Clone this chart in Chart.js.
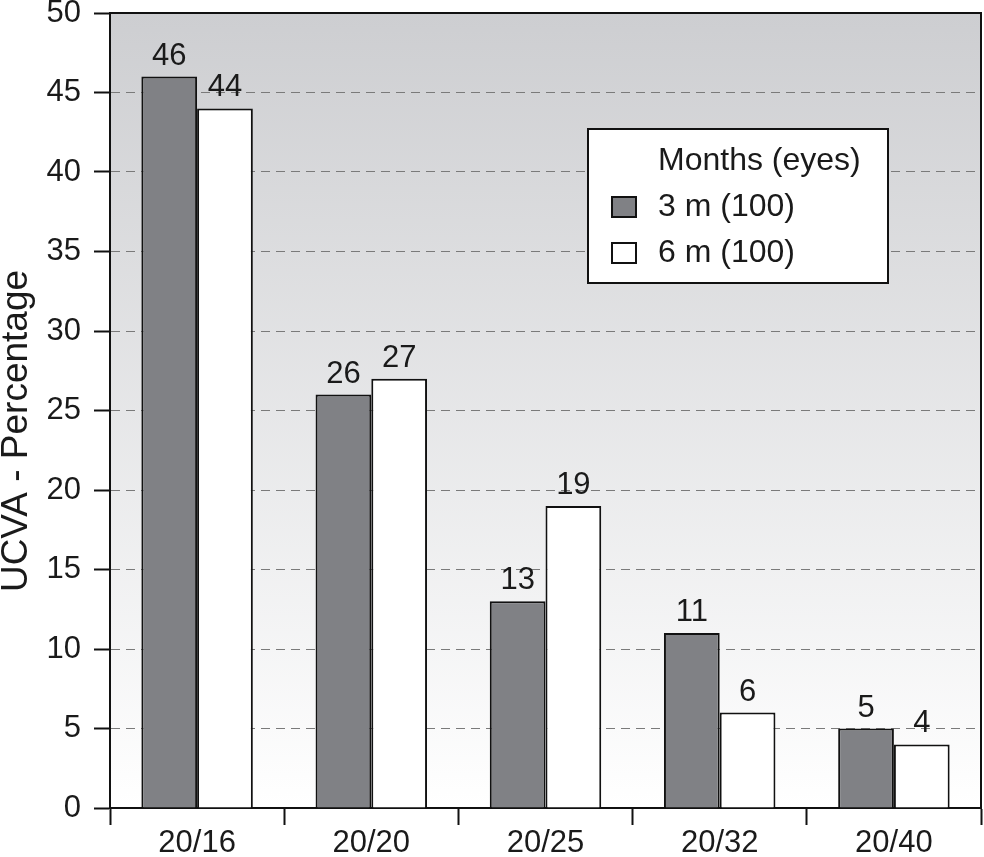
<!DOCTYPE html>
<html>
<head>
<meta charset="utf-8">
<script src="https://cdn.jsdelivr.net/npm/chart.js@4.4.1/dist/chart.umd.min.js"></script>
<style>
  html, body { margin: 0; padding: 0; background: #fff; }
  #wrap { width: 984px; height: 857px; }
</style>
</head>
<body>
<div id="wrap"><canvas id="grafico"></canvas></div>
<script>
// dados
const categorias = ['20/16', '20/20', '20/25', '20/32', '20/40'];
const meses3 = [46, 26, 13, 11, 5];
const meses6 = [44, 27, 19, 6, 4];
const rotulos = ['3 m (100)', '6 m (100)'];
const tituloLegenda = 'Months (eyes)';
const tituloY = 'UCVA - Percentage';

const fonte = '"Liberation Sans", Arial, Helvetica, sans-serif';

// fundo degrade na area do grafico
const fundo = {
    id: 'fundo',
    beforeDraw(chart) {
        const a = chart.chartArea;
        const ctx = chart.ctx;
        const g = ctx.createLinearGradient(0, a.top, 0, a.bottom);
        g.addColorStop(0, '#cdced1');
        g.addColorStop(1, '#ffffff');
        ctx.save();
        ctx.fillStyle = g;
        ctx.fillRect(a.left, a.top, a.right - a.left, a.bottom - a.top);
        ctx.restore();
    }
};

// valores em cima das barras + moldura + legenda + titulo do eixo
const extras = {
    id: 'extras',
    afterDatasetsDraw(chart) {
        const ctx = chart.ctx;
        const a = chart.chartArea;
        ctx.save();
        ctx.font = '31px ' + fonte;
        ctx.fillStyle = '#1a1a1a';
        ctx.textAlign = 'center';
        ctx.textBaseline = 'alphabetic';
        chart.data.datasets.forEach((ds, i) => {
            chart.getDatasetMeta(i).data.forEach((bar, j) => {
                ctx.fillText(ds.data[j], bar.x, bar.y - 12);
            });
        });

        // titulo do eixo y (um pouco abaixo do centro, como no original)
        ctx.save();
        ctx.translate(17, 431);
        ctx.rotate(-Math.PI / 2);
        ctx.font = '37px ' + fonte;
        ctx.textBaseline = 'middle';
        ctx.fillText(tituloY, 0, 0);
        ctx.restore();

        // moldura de cima e da direita
        ctx.strokeStyle = '#111';
        ctx.lineWidth = 2;
        ctx.beginPath();
        ctx.moveTo(a.left, a.top);
        ctx.lineTo(a.right, a.top);
        ctx.lineTo(a.right, a.bottom);
        ctx.stroke();

        // legenda
        const lx = a.left + 478, ly = a.top + 116;
        ctx.fillStyle = '#fff';
        ctx.fillRect(lx, ly, 300, 154);
        ctx.strokeRect(lx, ly, 300, 154);
        ctx.textAlign = 'left';
        ctx.textBaseline = 'middle';
        ctx.fillStyle = '#1a1a1a';
        ctx.font = '32px ' + fonte;
        ctx.fillText(tituloLegenda, lx + 70, ly + 32);
        chart.data.datasets.forEach((ds, i) => {
            const y = ly + 78 + i * 46;
            ctx.fillStyle = ds.backgroundColor;
            ctx.fillRect(lx + 24, y - 10, 24, 20);
            ctx.lineWidth = 2;
            ctx.strokeStyle = '#111';
            ctx.strokeRect(lx + 24, y - 10, 24, 20);
            ctx.fillStyle = '#1a1a1a';
            ctx.fillText(ds.label, lx + 70, y);
        });
        ctx.restore();
    }
};

new Chart(document.getElementById('grafico'), {
    type: 'bar',
    data: {
        labels: categorias,
        datasets: [
            {
                label: rotulos[0],
                data: meses3,
                backgroundColor: '#808185',
                borderColor: '#111',
                borderWidth: 2,
                borderSkipped: 'bottom'
            },
            {
                label: rotulos[1],
                data: meses6,
                backgroundColor: '#ffffff',
                borderColor: '#111',
                borderWidth: 2,
                borderSkipped: 'bottom'
            }
        ]
    },
    options: {
        responsive: true,
        maintainAspectRatio: false,
        animation: false,
        devicePixelRatio: 1,
        layout: { padding: { top: 13, right: 3, left: 0, bottom: 0 } },
        plugins: {
            legend: { display: false },
            tooltip: { enabled: false }
        },
        datasets: {
            bar: { categoryPercentage: 0.64, barPercentage: 1 }
        },
        scales: {
            x: {
                grid: {
                    offset: true,
                    drawOnChartArea: false,
                    tickLength: 17,
                    tickColor: '#111',
                    tickWidth: 2
                },
                border: { color: '#111', width: 2 },
                ticks: {
                    color: '#1a1a1a',
                    font: { family: fonte, size: 31 },
                    padding: 0
                },
                afterFit(scale) {
                    scale.height = 49;
                    scale.paddingLeft = 0;
                    scale.paddingRight = 0;
                }
            },
            y: {
                min: 0,
                max: 50,
                ticks: {
                    stepSize: 5,
                    color: '#1a1a1a',
                    font: { family: fonte, size: 31 },
                    padding: 13
                },
                grid: {
                    color: '#7a7a7a',
                    lineWidth: 1,
                    tickLength: 16,
                    tickColor: '#111',
                    tickWidth: 2,
                    tickBorderDash: []
                },
                border: { color: '#111', width: 2, dash: [9, 6] },
                afterFit(scale) {
                    scale.width = 110;
                    scale.paddingTop = 0;
                    scale.paddingBottom = 0;
                }
            }
        }
    },
    plugins: [fundo, extras]
});
</script>
</body>
</html>
